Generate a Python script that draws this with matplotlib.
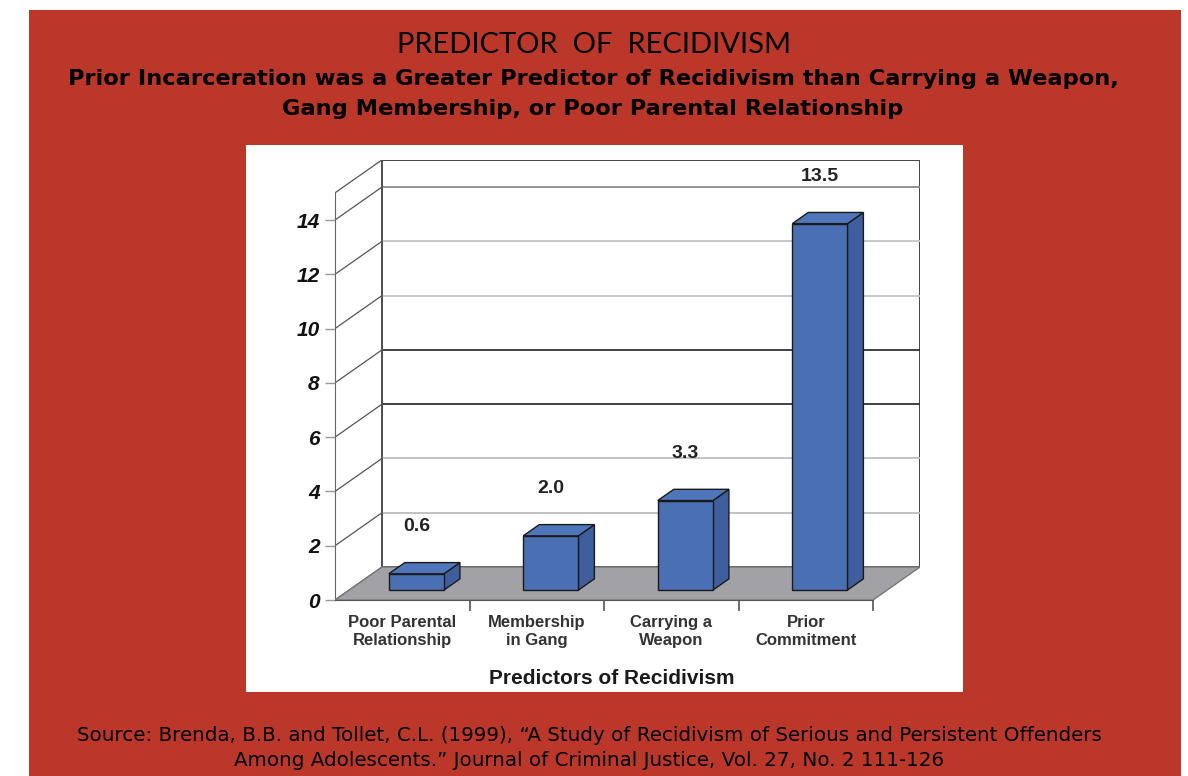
import matplotlib
matplotlib.use("Agg")
import matplotlib.pyplot as plt
from matplotlib.patches import Rectangle, Polygon

# ---- data ----
categories = ["Poor Parental\nRelationship", "Membership\nin Gang",
              "Carrying a\nWeapon", "Prior\nCommitment"]
values = [0.6, 2.0, 3.3, 13.5]
value_labels = ["0.6", "2.0", "3.3", "13.5"]
y_ticks = [0, 2, 4, 6, 8, 10, 12, 14]
y_max = 15

title = "PREDICTOR  OF  RECIDIVISM"
subtitle = ("Prior Incarceration was a Greater Predictor of Recidivism than Carrying a Weapon,\n"
            "Gang Membership, or Poor Parental Relationship")
source = ("Source: Brenda, B.B. and Tollet, C.L. (1999), \u201cA Study of Recidivism of Serious and Persistent Offenders\n"
          "Among Adolescents.\u201d Journal of Criminal Justice, Vol. 27, No. 2 111-126")
x_title = "Predictors of Recidivism"

# ---- style ----
RED = "#BA3729"
BAR_FRONT = "#4A6FB2"
BAR_SIDE = "#3E5E9E"
BAR_TOP = "#4F76BA"
FLOOR = "#A2A2A6"
CHART_FONT = "Liberation Sans"
TITLE_FONT = "Lato"
BODY_FONT = "DejaVu Sans"

W, H = 1188, 776
fig = plt.figure(figsize=(W / 100, H / 100), dpi=100)
fig.patch.set_facecolor("white")


def fx(x):
    return x / W


def fy(y):
    return 1 - y / H


# poster background and white chart panel
fig.patches.append(Rectangle((fx(29), 0), fx(1181) - fx(29), fy(10),
                             transform=fig.transFigure, facecolor=RED,
                             edgecolor="none", zorder=0))
fig.patches.append(Rectangle((fx(246), fy(692)), fx(963) - fx(246), fy(145) - fy(692),
                             transform=fig.transFigure, facecolor="white",
                             edgecolor="none", zorder=1))

# headings
fig.text(fx(594), fy(45), title, ha="center", va="center", fontsize=21,
         family=TITLE_FONT, fontweight="normal", color="black", zorder=3)
fig.text(fx(593), fy(94), subtitle, ha="center", va="center", fontsize=16.2,
         family=BODY_FONT, fontweight="bold", color="black",
         linespacing=1.6, zorder=3)
fig.text(fx(589), fy(748), source, ha="center", va="center", fontsize=14.3,
         family=BODY_FONT, fontweight="normal", color="black",
         linespacing=1.35, zorder=3)

# ---- pseudo-3D column chart ----
n = len(values)
cat_px = (873 - 335) / n          # pixels per category on the front plane
unit_px = (600 - 220) / 14        # pixels per value unit
depth_px = (47, 33)               # receding offset of the back wall
DX = depth_px[0] / cat_px
DY = depth_px[1] / unit_px

ax = fig.add_axes([fx(335), fy(600),
                   (n * cat_px + depth_px[0]) / W,
                   (y_max * unit_px + depth_px[1]) / H])
ax.set_zorder(2)
ax.patch.set_alpha(0)
ax.set_xlim(0, n + DX)
ax.set_ylim(0, y_max + DY)
for side in ("top", "right"):
    ax.spines[side].set_visible(False)
ax.spines["left"].set_bounds(0, y_max)
ax.spines["left"].set_color("#666666")
ax.spines["bottom"].set_bounds(0, n)
ax.spines["bottom"].set_color("#555555")

# back wall
ax.add_patch(Rectangle((DX, DY), n, y_max, facecolor="white",
                       edgecolor="#444444", lw=1.4, zorder=1))
# gridlines on the back wall
grid_tones = {2: "#BDBDBD", 4: "#BDBDBD", 6: "#333333", 8: "#333333",
              10: "#C4C4C4", 12: "#C4C4C4", 14: "#8A8A8A"}
for v in y_ticks[1:]:
    ax.plot([DX, n + DX], [v + DY, v + DY], color=grid_tones.get(v, "#BDBDBD"),
            lw=1.3, zorder=2)
# side wall diagonals
for v in y_ticks + [y_max]:
    ax.plot([0, DX], [v, v + DY], color="#555555", lw=0.9, zorder=2)
ax.plot([DX, DX], [DY, y_max + DY], color="#555555", lw=1.2, zorder=2)

# floor
ax.add_patch(Polygon([(0, 0), (n, 0), (n + DX, DY), (DX, DY)], closed=True,
                     facecolor=FLOOR, edgecolor="#777777", lw=1.0, zorder=3))

# columns
front = 0.30   # depth fraction of the column front face
depth = 0.34   # depth fraction of the column body
bar_w = 0.41
for i, (v, lab) in enumerate(zip(values, value_labels)):
    x0 = i + 0.5 - bar_w / 2 + front * DX
    x1 = x0 + bar_w
    yb = front * DY
    yt = v + yb
    ddx, ddy = depth * DX, depth * DY
    ax.add_patch(Polygon([(x1, yb), (x1 + ddx, yb + ddy), (x1 + ddx, yt + ddy), (x1, yt)],
                         closed=True, facecolor=BAR_SIDE, edgecolor="#1a1a1a",
                         lw=1.0, zorder=4))
    ax.add_patch(Polygon([(x0, yt), (x1, yt), (x1 + ddx, yt + ddy), (x0 + ddx, yt + ddy)],
                         closed=True, facecolor=BAR_TOP, edgecolor="#1a1a1a",
                         lw=1.0, zorder=4))
    ax.add_patch(Rectangle((x0, yb), bar_w, v, facecolor=BAR_FRONT,
                           edgecolor="#1a1a1a", lw=1.0, zorder=5))
    ax.text((x0 + x1) / 2, yt + 1.75, lab, ha="center", va="center",
            fontsize=14, family=CHART_FONT, fontweight="bold",
            color="#222222", zorder=6)

# axes ticks and labels
ax.set_yticks(y_ticks)
ax.set_yticklabels([str(t) for t in y_ticks], family=CHART_FONT,
                   fontweight="bold", fontstyle="italic", fontsize=15)
ax.tick_params(axis="y", length=7, width=1, color="#999999", pad=4,
               labelcolor="#111111")
ax.set_xticks([i + 0.5 for i in range(n)])
ax.set_xticklabels(categories, family=CHART_FONT, fontweight="bold",
                   fontsize=12, color="#333333", linespacing=1.25)
ax.set_xticks(list(range(1, n + 1)), minor=True)
ax.tick_params(axis="x", which="major", length=0, pad=11)
ax.tick_params(axis="x", which="minor", length=8, width=1.2, color="#555555")

ax.set_xlabel(x_title, family=CHART_FONT, fontweight="bold", fontsize=15,
              color="#1a1a1a")
ax.xaxis.set_label_coords((612 - 335) / (n * cat_px + depth_px[0]),
                          -(678 - 600) / (y_max * unit_px + depth_px[1]))
ax.xaxis.label.set_va("center")

fig.savefig("out.png", dpi=100, facecolor=fig.get_facecolor())
